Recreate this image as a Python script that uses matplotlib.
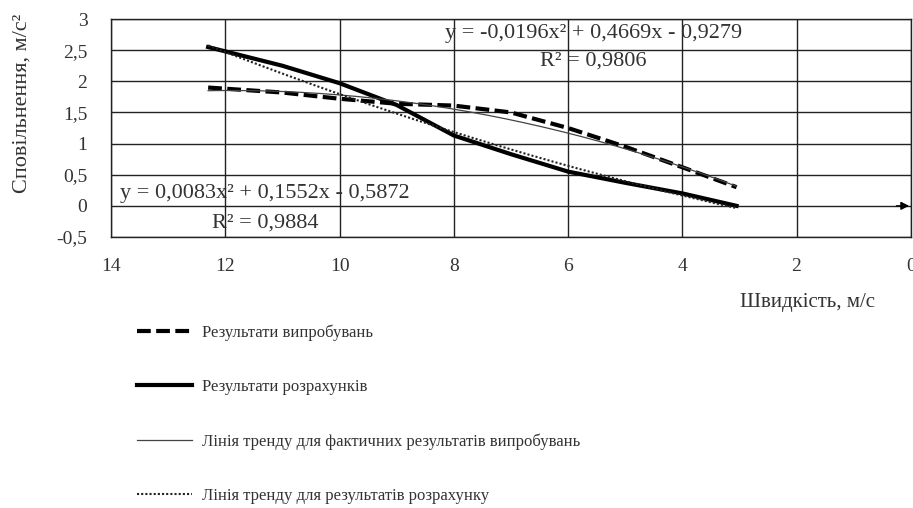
import numpy as np
import matplotlib.pyplot as plt

plt.rcParams['font.family'] = ['Liberation Serif', 'DejaVu Serif']

# швидкість, м/с
speed = [12.3, 11, 10, 9, 8, 7, 6, 5, 4, 3.05]
# сповільнення за результатами випробувань
decel_test = [1.90, 1.82, 1.72, 1.64, 1.61, 1.50, 1.25, 0.95, 0.62, 0.30]
# сповільнення за результатами розрахунків
decel_calc = [2.55, 2.25, 1.97, 1.62, 1.13, 0.83, 0.55, 0.37, 0.20, 0.0]

# коефіцієнти поліноміальних ліній тренду
trend_test = [-0.0196, 0.4669, -0.9279]
trend_calc = [0.0083, 0.1552, -0.5872]
r2_test = 0.9806
r2_calc = 0.9884

x_ticks = [14, 12, 10, 8, 6, 4, 2, 0]
y_ticks = [-0.5, 0, 0.5, 1, 1.5, 2, 2.5, 3]

labels = ['Результати випробувань',
          'Результати розрахунків',
          'Лінія тренду для фактичних результатів випробувань',
          'Лінія тренду для результатів розрахунку']

txt = '#333333'

fig = plt.figure(figsize=(9.13, 5.08), dpi=100)
ax = fig.add_axes([0.1216, 0.5335, 0.876, 0.429])

xs = np.linspace(speed[0], speed[-1], 200)
l1, = ax.plot(speed, decel_test, color='black', lw=3, ls=(0, (3.3, 1.3)))
l2, = ax.plot(speed, decel_calc, color='black', lw=3)
l3, = ax.plot(xs, np.polyval(trend_test, xs), color='#444444', lw=0.9)
l4, = ax.plot(xs, np.polyval(trend_calc, xs), color='#222222', lw=1.5, ls=(0, (1, 1)))

ax.set_xlim(14, 0)
ax.set_ylim(-0.5, 3)
ax.set_xticks(x_ticks)
ax.set_yticks(y_ticks)
ax.set_xticklabels([str(v) for v in x_ticks])
ax.set_yticklabels([str(v).replace('.', ',') for v in y_ticks])
ax.tick_params(length=0, labelsize=14, labelcolor=txt)
ax.tick_params(axis='y', pad=17)
ax.tick_params(axis='x', pad=15)
ax.grid(True, color='#222222', lw=1.0)
ax.set_axisbelow(True)
for s in ax.spines.values():
    s.set_color('#222222')
    s.set_linewidth(1.0)

# вісь швидкості зі стрілкою
ax.annotate('', xy=(-0.02, 0), xytext=(0.3, 0),
            arrowprops=dict(arrowstyle='-|>', color='black', lw=1.0, mutation_scale=12),
            annotation_clip=False)

def fmt(v):
    return ('%.4f' % v).replace('.', ',')

eq_calc = 'y = %sx² + %sx - %s' % (fmt(trend_calc[0]), fmt(trend_calc[1]), fmt(-trend_calc[2]))
eq_test = 'y = %sx² + %sx - %s' % (fmt(trend_test[0]), fmt(trend_test[1]), fmt(-trend_test[2]))
ax.text(11.3, 0.2, eq_calc, fontsize=16, ha='center', va='center', color=txt)
ax.text(11.3, -0.27, 'R² = %s' % fmt(r2_calc), fontsize=16, ha='center', va='center', color=txt)
ax.text(5.55, 2.76, eq_test, fontsize=16, ha='center', va='center', color=txt)
ax.text(5.55, 2.32, 'R² = %s' % fmt(r2_test), fontsize=16, ha='center', va='center', color=txt)

fig.text(22 / 913, 1 - 103 / 508, 'Сповільнення, м/с²', fontsize=16, rotation=90,
         ha='center', va='center', color=txt)
fig.text(807 / 913, 1 - 302 / 508, 'Швидкість, м/с', fontsize=15,
         ha='center', va='center', color=txt)

fig.legend([l1, l2, l3, l4], labels, loc='upper left', bbox_to_anchor=(0.143, 0.375),
           frameon=False, fontsize=12, labelspacing=2.3, handlelength=3.3, handletextpad=0.6,
           borderaxespad=0, labelcolor=txt)

fig.savefig('out.png', dpi=100)
